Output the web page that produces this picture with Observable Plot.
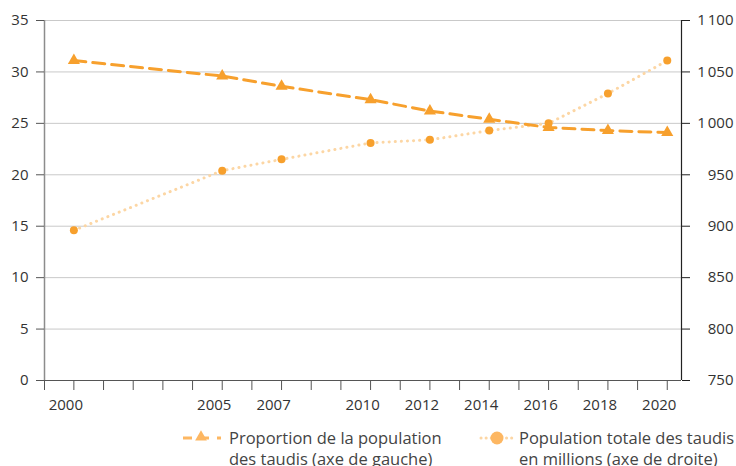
<!DOCTYPE html>
<html><head><meta charset="utf-8">
<script src="https://cdn.jsdelivr.net/npm/d3@7"></script>
<script src="https://cdn.jsdelivr.net/npm/@observablehq/plot@0.6"></script>
<style>
body{margin:0;background:#fff;font-family:"Open Sans",sans-serif}
#wrap{position:relative;width:736px;height:466px;overflow:hidden}
#legend{position:absolute;left:0;top:416px;width:736px;height:50px;color:#444;font-size:16.5px;line-height:21px}
.item{position:absolute;top:11px}
.item svg{position:absolute;top:2px}
.item .txt{position:absolute;white-space:nowrap}
</style></head><body>
<div id="wrap"><div id="chart"></div><div id="legend"></div></div>
<script>
const years = [2000, 2005, 2007, 2010, 2012, 2014, 2016, 2018, 2020];
const proportion = [31.1, 29.6, 28.6, 27.3, 26.2, 25.4, 24.6, 24.3, 24.1];
const population = [896, 954, 965, 981, 984, 993, 1000, 1029, 1061];
const leftTicks = [0, 5, 10, 15, 20, 25, 30, 35];
const rightTicks = [750, 800, 850, 900, 950, 1000, 1050, 1100];
const xLabels = [2000, 2005, 2007, 2010, 2012, 2014, 2016, 2018, 2020];
const legendLeft = ["Proportion de la population", "des taudis (axe de gauche)"];
const legendRight = ["Population totale des taudis", "en millions (axe de droite)"];

const orange = "#F7A02D";
const lightOrange = "#FCD6A4";
const xDomain = [1999.01, 2020.48];
const toLeft = v => (v - 750) / (1100 - 750) * 35;
const fromLeft = v => Math.round(v / 35 * 350 + 750);
const fmt = n => n >= 1000 ? String(n).replace(/(\d)(\d{3})$/, "$1\u202f$2") : String(n);

const data = years.map((y, i) => ({year: y, prop: proportion[i], pop: population[i], popL: toLeft(population[i])}));
const xTicks = [xDomain[0], ...d3.range(2000, 2021)];

const chart = Plot.plot({
  width: 736, height: 416,
  marginTop: 20, marginBottom: 36, marginLeft: 44, marginRight: 55,
  style: {fontFamily: "'Open Sans', sans-serif", fontSize: "15px", color: "#333", background: "#fff"},
  x: {domain: xDomain},
  y: {domain: [0, 35]},
  marks: [
    Plot.gridY(leftTicks.filter(t => t > 0), {stroke: "#c9c9c9", strokeOpacity: 1}),
    Plot.ruleX([xDomain[0]], {stroke: "#8c8c8c", strokeWidth: 1.5}),
    Plot.ruleX([xDomain[1]], {stroke: "#222", strokeWidth: 1.2}),
    Plot.ruleY([0], {stroke: "#555", strokeWidth: 1.2}),
    Plot.axisY({ticks: leftTicks, tickSize: 8, tickPadding: 8, stroke: "#555", fontSize: 15, label: null, tickFormat: d => d}),
    Plot.axisY({anchor: "right", ticks: rightTicks.map(toLeft), tickSize: 8, tickPadding: 44, textAnchor: "end", stroke: "#222", fontSize: 15, label: null, tickFormat: d => fmt(fromLeft(d))}),
    Plot.axisX({ticks: xTicks, tickSize: 10, stroke: "#555", text: null, label: null}),
    Plot.axisX({ticks: xLabels, tickSize: 0, tickPadding: 19, dx: -8, fontSize: 15, label: null, tickFormat: d => String(d)}),
    Plot.line(data, {x: "year", y: "popL", stroke: lightOrange, strokeWidth: 3, strokeDasharray: "0.1,6", strokeLinecap: "round"}),
    Plot.line(data, {x: "year", y: "prop", stroke: orange, strokeWidth: 3, strokeDasharray: "12,7"}),
    Plot.dot(data, {x: "year", y: "popL", r: 4, fill: orange, stroke: "none"}),
    Plot.dot(data, {x: "year", y: "prop", r: 4.5, symbol: "triangle", fill: orange, stroke: "none"})
  ]
});
document.getElementById("chart").appendChild(chart);

const legend = document.getElementById("legend");
function addItem(left, textLeft, markerSvg, lines) {
  const d = document.createElement("div");
  d.className = "item";
  d.style.left = left + "px";
  d.innerHTML = markerSvg + `<div class="txt" style="left:${textLeft - left}px">` + lines.join("<br>") + "</div>";
  legend.appendChild(d);
}
const legOrange = "#FDB762";
addItem(182, 229, `<svg width="40" height="16"><line x1="1" y1="9" x2="39" y2="9" stroke="${legOrange}" stroke-width="3" stroke-dasharray="9,8"/><path d="${d3.symbol(d3.symbolTriangle, 60)()}" transform="translate(19,8)" fill="${legOrange}"/></svg>`, legendLeft);
addItem(479, 519, `<svg width="36" height="16"><line x1="2" y1="9" x2="34" y2="9" stroke="${lightOrange}" stroke-width="3" stroke-dasharray="0.1,5" stroke-linecap="round"/><circle cx="18" cy="9" r="6.5" fill="${legOrange}"/></svg>`, legendRight);
</script>
</body></html>
